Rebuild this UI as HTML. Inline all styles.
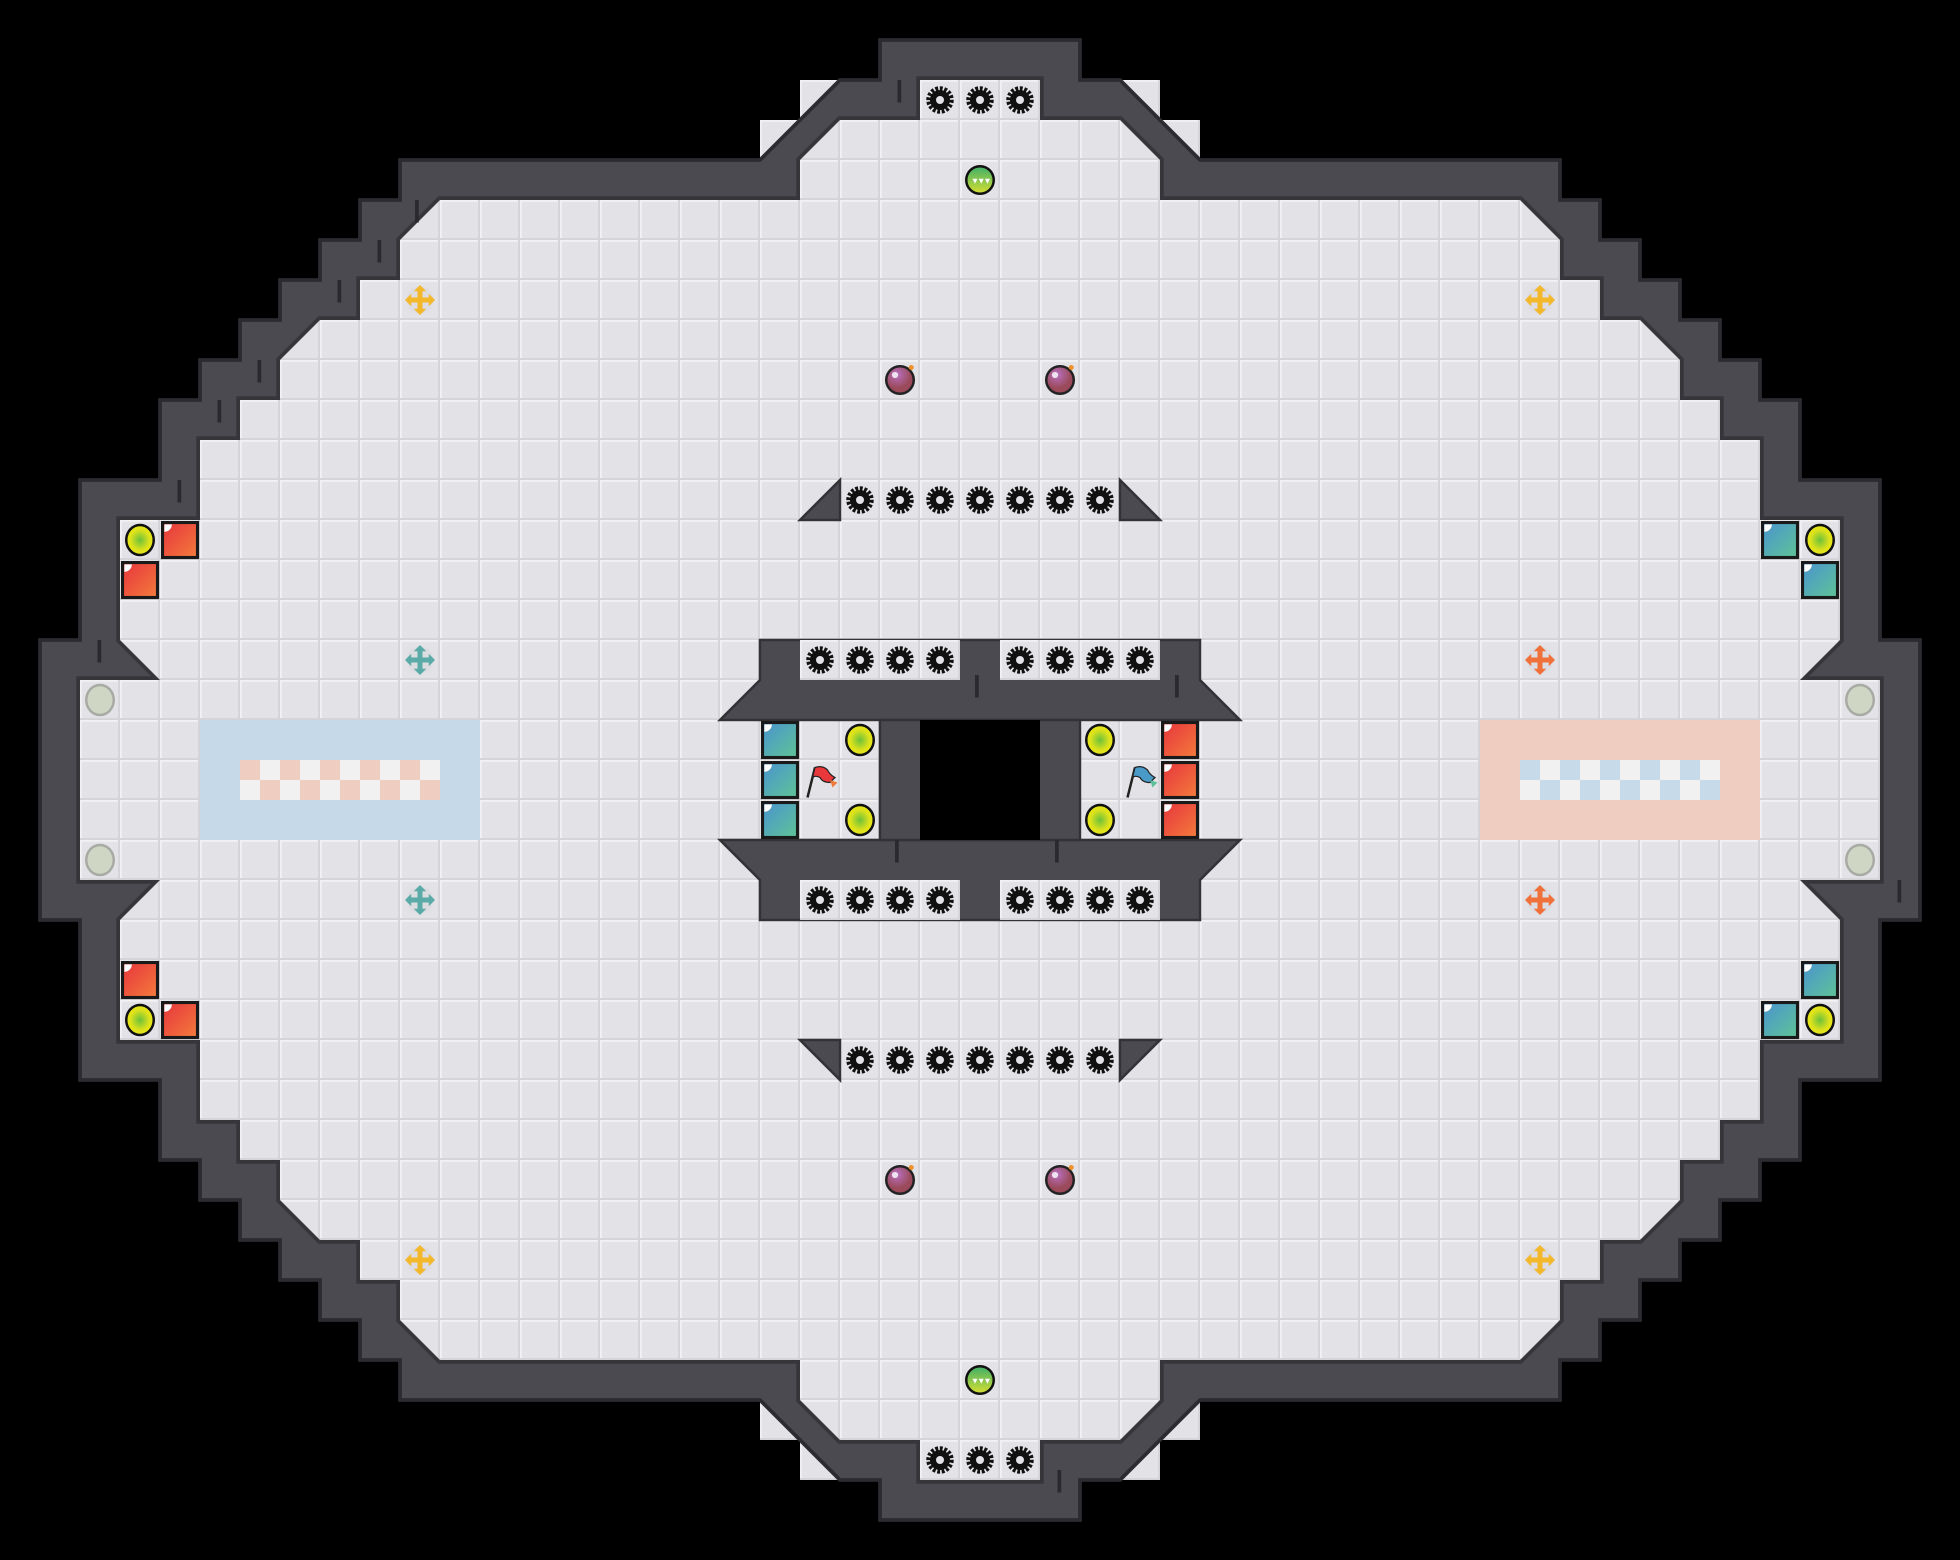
<!DOCTYPE html>
<html><head><meta charset="utf-8"><style>
html,body{margin:0;padding:0;background:#000;}
svg{display:block;}
</style></head><body>
<svg id="s" width="1960" height="1560" viewBox="0 0 1568 1248" xmlns="http://www.w3.org/2000/svg">
<defs>
<pattern id="tile" width="32" height="32" patternUnits="userSpaceOnUse">
<rect width="32" height="32" fill="#e3e3e7"/>
<rect x="0" y="0" width="32" height="1.5" fill="#f1f1f3"/>
<rect x="0" y="0" width="1.5" height="32" fill="#f1f1f3"/>
<rect x="0" y="30.5" width="32" height="1.5" fill="#d3d3d8"/>
<rect x="30.5" y="0" width="1.5" height="32" fill="#d3d3d8"/>
</pattern>
<pattern id="chkA" width="32" height="32" patternUnits="userSpaceOnUse">
<rect width="32" height="32" fill="#f1f1f1"/>
<rect width="16" height="16" fill="#efcdc1"/><rect x="16" y="16" width="16" height="16" fill="#efcdc1"/>
</pattern>
<pattern id="chkB" width="32" height="32" patternUnits="userSpaceOnUse">
<rect width="32" height="32" fill="#f1f1f1"/>
<rect width="16" height="16" fill="#c6daea"/><rect x="16" y="16" width="16" height="16" fill="#c6daea"/>
</pattern>
<linearGradient id="red" x1="0" y1="0" x2="1" y2="1"><stop offset="0" stop-color="#e7343c"/><stop offset="1" stop-color="#f47c3c"/></linearGradient>
<linearGradient id="teal" x1="0" y1="0" x2="1" y2="1"><stop offset="0" stop-color="#4a93cf"/><stop offset="1" stop-color="#5fc496"/></linearGradient>
<radialGradient id="yel"><stop offset="0" stop-color="#6cc23a"/><stop offset="0.7" stop-color="#dfe21a"/><stop offset="1" stop-color="#e8e81a"/></radialGradient>
<linearGradient id="grn" x1="0" y1="0" x2="0" y2="1"><stop offset="0" stop-color="#3fae6a"/><stop offset="1" stop-color="#d6e030"/></linearGradient>
<radialGradient id="bomb" cx="0.4" cy="0.3"><stop offset="0" stop-color="#b870c0"/><stop offset="1" stop-color="#9a4a5a"/></radialGradient>
<g id="spike"><circle r="9" fill="none" stroke="#111" stroke-width="4" stroke-dasharray="2.2 1.3"/><circle r="8" fill="#111"/><circle r="3.2" fill="#e3e3e7"/></g>
<g id="yball"><ellipse rx="11" ry="12" fill="url(#yel)" stroke="#111" stroke-width="2"/></g>
<g id="rbox"><rect x="-14" y="-14" width="28" height="28" fill="url(#red)" stroke="#1a1a1a" stroke-width="2.5"/><path d="M-12.5 -12.5 h6 a6 6 0 0 1 -6 6z" fill="#fff"/></g>
<g id="tbox"><rect x="-14" y="-14" width="28" height="28" fill="url(#teal)" stroke="#1a1a1a" stroke-width="2.5"/><path d="M-12.5 -12.5 h6 a6 6 0 0 1 -6 6z" fill="#fff"/></g>
<g id="gball"><circle r="11" fill="url(#grn)" stroke="#111" stroke-width="2"/><path d="M-6 -1 l2 4 l2 -4 z M-1 -1 l2 4 l2 -4z M4 -1 l2 4 l2 -4z" fill="#fff"/></g>
<g id="bombg"><circle r="11" fill="url(#bomb)" stroke="#222" stroke-width="2"/><circle cx="-4" cy="-4" r="2.5" fill="#fff" opacity="0.8"/><circle cx="9" cy="-10" r="2" fill="#f0902a"/></g>
<g id="gray"><ellipse rx="11" ry="12" fill="#cfd6c4" stroke="#a8aaa4" stroke-width="2"/></g>
</defs>
<rect width="1568" height="1248" fill="#000"/>
<g id="extra" fill="#e3e3e7"></g>
<g id="walls"></g>
<g id="items"></g>
</svg>
<script>
const NS="http://www.w3.org/2000/svg";
const s=document.getElementById('s');
function el(t,a,p){const e=document.createElementNS(NS,t);for(const k in a)e.setAttribute(k,a[k]);(p||s).appendChild(e);return e;}
function full(Q){let P=[];
Q.forEach(p=>P.push(p));
Q.slice().reverse().forEach(p=>P.push([p[0],1248-p[1]]));
Q.forEach(p=>P.push([1568-p[0],1248-p[1]]));
Q.slice().reverse().forEach(p=>P.push([1568-p[0],p[1]]));
return P.map(p=>p.join(',')).join(' ');}
const Q=[[784,64],[736,64],[736,96],[672,96],[640,128],[640,160],[352,160],[320,192],[320,224],[288,224],[288,256],[256,256],[224,288],[224,320],[192,320],[192,352],[160,352],[160,416],[96,416],[96,512],[128,544],[64,544],[64,624]];
const O=[[784,32],[704,32],[704,64],[672,64],[608,128],[320,128],[320,160],[288,160],[288,192],[256,192],[256,224],[224,224],[224,256],[192,256],[192,288],[160,288],[160,320],[128,320],[128,384],[64,384],[64,512],[32,512],[32,624]];
const pts=full(Q), opts=full(O);
const ex=document.getElementById('extra');
[[640,64],[608,96]].forEach(([x,y])=>{
 [[x,y],[1568-x-32,y],[x,1248-y-32],[1568-x-32,1248-y-32]].forEach(([a,b])=>el('rect',{x:a,y:b,width:32,height:32,fill:'url(#tile)'},ex));
});
const w=document.getElementById('walls');
el('polygon',{points:opts,fill:'#4b4a50',stroke:'#2c2b30','stroke-width':3},w);
el('polygon',{points:pts,fill:'none',stroke:'#363539','stroke-width':6,'stroke-linejoin':'miter'},w);
el('polygon',{points:pts,fill:'url(#tile)'},w);
el('rect',{x:160,y:576,width:224,height:96,fill:'#c5d9e9'},w);
el('rect',{x:192,y:608,width:160,height:32,fill:'url(#chkA)'},w);
el('rect',{x:1184,y:576,width:224,height:96,fill:'#efcdc1'},w);
el('rect',{x:1216,y:608,width:160,height:32,fill:'url(#chkB)'},w);
const WC='#4b4a50';
function wall(d){el('path',{d:d,fill:WC,stroke:'#333237','stroke-width':2},w);}
wall('M608 512 H960 V544 L992 576 H576 L608 544 Z');
wall('M608 736 H960 V704 L992 672 H576 L608 704 Z');
wall('M704 576 H864 V672 H704 Z');
el('rect',{x:736,y:576,width:96,height:96,fill:'#000'},w);
[[640,512],[800,512],[640,704],[800,704]].forEach(([x,y])=>el('rect',{x:x,y:y,width:128,height:32,fill:'url(#tile)'},w));
wall('M640 416 L672 384 V416 Z');wall('M928 416 L896 384 V416 Z');
wall('M640 832 L672 864 V832 Z');wall('M928 832 L896 864 V832 Z');
[[718,64],[142,384],[78,512],[174,320],[206,288],[270,224],[302,192],[332,160],[780,540],[940,540],[716,672],[844,672],[1518,704],[846,1176]].forEach(([x,y])=>el('rect',{x:x,y:y,width:3,height:18,fill:'#2a292d'},w));
const it=document.getElementById('items');
function u(id,x,y){el('use',{href:'#'+id,x:x,y:y},it);}
[752,784,816].forEach(x=>{u('spike',x,80);u('spike',x,1168);});
for(let i=0;i<7;i++){u('spike',688+32*i,400);u('spike',688+32*i,848);}
[656,688,720,752,816,848,880,912].forEach(x=>{u('spike',x,528);u('spike',x,720);});
u('gball',784,144);u('gball',784,1104);
[[720,304],[848,304],[720,944],[848,944]].forEach(([x,y])=>u('bombg',x,y));
[[80,560],[80,688],[1488,560],[1488,688]].forEach(([x,y])=>u('gray',x,y));
u('yball',112,432);u('rbox',144,432);u('rbox',112,464);
u('rbox',112,784);u('yball',112,816);u('rbox',144,816);
u('tbox',1424,432);u('yball',1456,432);u('tbox',1456,464);
u('tbox',1456,784);u('tbox',1424,816);u('yball',1456,816);
u('tbox',624,592);u('tbox',624,624);u('tbox',624,656);u('yball',688,592);u('yball',688,656);
u('rbox',944,592);u('rbox',944,624);u('rbox',944,656);u('yball',880,592);u('yball',880,656);
function flag(x,y,c1,c2){el('line',{x1:x-10,y1:y+14,x2:x-4,y2:y-10,stroke:'#222','stroke-width':2},it);
 el('path',{d:`M${x-4} ${y-10} q6 -2 10 2 q2 4 6 6 l-4 4 q-6 0 -8 -4 q-4 -2 -6 0 z`,fill:c1,stroke:'#222','stroke-width':1},it);
 el('path',{d:`M${x+8} ${y} l6 2 l-4 4 z`,fill:c2},it);}
flag(656,624,'#e8383c','#f07a3a');flag(912,624,'#4a9ac8','#5cc09a');
function cross(x,y,c){const g=el('g',{transform:`translate(${x},${y})`,fill:c},it);
 el('circle',{r:11,fill:'#d8d8dc',opacity:0.5},g);
 el('rect',{x:-8,y:-2,width:16,height:4},g);el('rect',{x:-2,y:-8,width:4,height:16},g);
 el('path',{d:'M-12 0 l5 -5 v10z M12 0 l-5 -5 v10z M0 -12 l-5 5 h10z M0 12 l-5 -5 h10z'},g);}
[[336,240],[1232,240],[336,1008],[1232,1008]].forEach(([x,y])=>cross(x,y,'#f3b82a'));
cross(336,528,'#5aaaa8');cross(336,720,'#5aaaa8');
cross(1232,528,'#f0703a');cross(1232,720,'#f0703a');
</script>
</body></html>
